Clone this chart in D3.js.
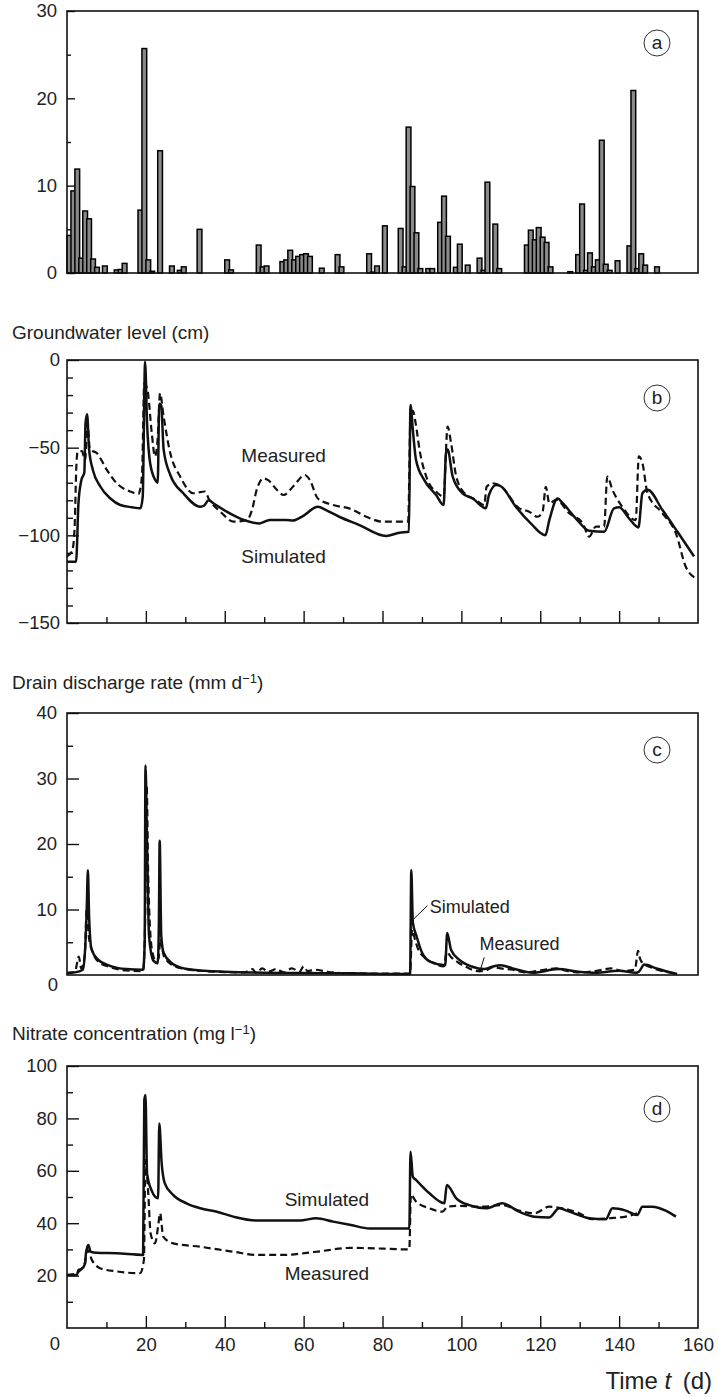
<!DOCTYPE html>
<html lang="en">
<head>
<meta charset="UTF-8">
<title>Rainfall, groundwater level, drain discharge and nitrate</title>
<script src="https://d3js.org/d3.v7.min.js"></script>
<style>
  body { margin: 0; background: #fff; }
  svg text { font-family: "Liberation Sans", Arial, sans-serif; fill: #222; }
</style>
</head>
<body>
<div id="chart"></div>
<script>
// (a) daily rainfall bars
const rainDay = [0,1,2,3,4,5,6,7,9,12,13,14,18,19,20,21,23,26,28,29,33,40,41,48,49,50,
  54,55,56,57,58,59,60,61,64,68,69,76,77,78,80,84,85,86,87,88,89,91,92,94,95,96,98,99,101,
  104,105,106,108,109,116,117,118,119,120,121,122,127,129,130,131,132,133,134,135,136,137,
  139,142,143,144,145,146,149];
const rainMm = [4.3,9.4,11.9,1.7,7.1,6.2,1.6,0.65,0.8,0.35,0.4,1.1,7.2,25.7,1.5,0.2,14.0,0.8,0.3,0.7,5.0,1.5,0.35,3.2,0.7,0.8,
  1.3,1.5,2.6,1.5,1.9,2.1,2.2,1.9,0.55,2.1,0.7,2.2,0.1,0.8,5.4,5.1,0.7,16.7,9.9,4.6,0.5,0.5,0.5,5.8,8.8,4.2,0.65,3.3,0.9,
  1.7,0.3,10.4,5.6,0.5,3.2,4.9,3.8,5.2,4.1,3.5,0.7,0.15,2.1,7.9,0.3,2.3,0.7,1.5,15.2,1.0,0.3,
  1.4,3.1,20.9,0.5,2.2,0.9,0.7];

// (b) groundwater level, cm  [day, value]
const gwSimulated = [[0,-115],[2.3,-115],[2.9,-82],[3.6,-69],[4.4,-64],[4.7,-36],[5.1,-31],[5.6,-51],[6.6,-63],
  [8.4,-72],[11,-79],[13.5,-82.7],[16.5,-84],[18.6,-84.6],[19.2,-78],[19.8,-1],[20.3,-36],[21.1,-59],[22.4,-68.5],
  [23,-70],[23.4,-25],[23.9,-26],[24.5,-51],[26.2,-65.6],[29.5,-76],[33.8,-83.7],[34.8,-83],[35.9,-80],[37.1,-81.7],
  [40.5,-86.5],[43.8,-90.3],[48.8,-93.2],[51.4,-91.3],[55.6,-91.3],[57.3,-91.6],[59.8,-89],[63.6,-83.7],[65.7,-85.6],
  [69,-89.4],[74,-94],[80.9,-100.4],[84.3,-98.5],[86.7,-98],[87.1,-25.7],[87.7,-40],[88.5,-57],[90.6,-68.5],
  [93.6,-77],[95.5,-82.7],[96.1,-53],[96.5,-51],[97.8,-66.5],[100.3,-76],[102.9,-79],[106.2,-84.6],[107,-77],
  [108.8,-71.3],[110,-72],[113.8,-83.7],[117.6,-93.2],[121.3,-100],[122.3,-91.3],[124.4,-79],[125.7,-81.7],
  [129,-90.3],[132.4,-97.4],[136.2,-98],[138.7,-84.6],[140,-84],[142.5,-90.3],[144.9,-95.5],[145.9,-76],
  [147.2,-74],[151,-85.6],[154.8,-98],[159,-112]];
const gwMeasured = [[0,-112],[1.3,-109],[1.9,-97],[2.4,-59],[2.7,-52.3],[3.8,-52],[4.6,-57],[5.2,-36],[5.8,-51],
  [7.6,-53.2],[10.1,-62.7],[12.6,-70.3],[16,-75],[18.1,-76.4],[19,-66.5],[19.6,-13.3],[20.4,-17],[21.5,-41.8],
  [22.3,-55],[23,-44.5],[23.6,-19],[24.5,-32.3],[26.2,-53.2],[28.7,-66.5],[32,-76],[35,-75],[35.9,-79],[38.9,-86.5],
  [42.3,-92.2],[45.6,-91.3],[46.9,-85.6],[48.1,-74],[49.8,-67.5],[51,-68.5],[53.2,-74],[54.9,-77],[57.4,-72],
  [60.3,-65.6],[61.6,-68.5],[63.6,-79],[67.5,-82.7],[72,-85],[75.9,-89.4],[80.1,-92.2],[86.5,-92.2],[87.1,-32.3],
  [87.7,-29],[88.4,-36],[89.4,-51.3],[91.1,-66.5],[94,-76],[95.5,-77.9],[96.5,-38],[97.4,-47.5],[98.7,-66.5],
  [100.8,-76],[103.7,-79.8],[105.8,-82.7],[106.4,-72.3],[107.9,-70.3],[110,-72],[114.7,-84.6],[117.2,-86.5],
  [119.3,-89.4],[120.6,-86.5],[121.4,-72.3],[122.3,-81.7],[124,-79.8],[127.4,-87.5],[130.8,-93.2],[132.4,-100.8],
  [134.1,-95],[136.2,-95],[137,-66.5],[138.3,-74],[140.8,-83.7],[144.2,-91.3],[145,-55],[145.9,-58.7],[147.2,-76],
  [151,-87.5],[154.4,-98.9],[156.9,-117.9],[159.4,-124.5]];

// (c) drain discharge rate, mm/d
const qSimulated = [[0,0.3],[2,0.4],[4,0.8],[4.6,4],[5,10],[5.3,16],[5.6,9],[6.2,4],[7.8,2.4],[10.9,1.4],[15,0.9],
  [19.3,0.8],[19.7,5],[19.9,32],[20.3,20],[20.8,6],[21.9,2.2],[23,1.8],[23.3,8],[23.5,20.5],[23.9,6],[24.5,3.4],
  [26.6,1.8],[29.7,1.0],[34.9,0.65],[40,0.5],[50,0.35],[60,0.3],[71,0.25],[87,0.15],[87.3,16],[87.7,8],[88.6,6],
  [90.1,3.3],[92.2,2.0],[95.9,1.5],[96.4,6.4],[97.4,3.8],[99.5,2.3],[102.6,1.3],[105.8,0.9],[108,1.3],[110,1.5],
  [113,1.0],[118.2,0.35],[124.5,0.9],[129.7,0.5],[134,0.35],[140,0.65],[144.3,0.35],[145,0.5],[146.4,1.6],
  [149.5,1.0],[154.7,0.15]];
const qMeasured = [[0,0.3],[2,0.5],[3,2.8],[3.6,1.0],[4.5,3],[5,10],[5.5,6],[6.5,3.5],[8,2],[11,1.2],[15,0.7],
  [19.3,0.6],[19.8,8],[20.2,29],[20.6,15],[21.5,4],[22.5,2.2],[23.2,2.5],[23.7,5.5],[24.5,3],[26.5,1.6],[30,0.9],
  [35,0.6],[40,0.45],[45,0.4],[47,0.9],[48,0.3],[49.5,1.0],[51,0.5],[53,0.9],[55,0.4],[57,1.0],[59,0.5],[60,1.3],
  [61,0.6],[63,0.8],[66,0.5],[70,0.3],[80,0.2],[87,0.2],[87.5,7],[88.2,5.5],[89,4],[91,2.5],[93,1.8],[95.5,1.3],
  [96.3,3.5],[97.3,2.8],[99.5,1.8],[102,1.0],[104,0.6],[105.8,0.6],[108,1.2],[110,1.0],[113,0.8],[116,0.4],
  [118,0.5],[121,0.8],[124,1.0],[127,0.6],[130,0.4],[134,0.6],[138,1.0],[141,0.6],[144,0.8],[144.8,3.7],
  [145.3,2.5],[146,1.8],[148,1.2],[151,0.6],[154.7,0.2]];

// (d) nitrate concentration, mg/l
const no3Simulated = [[0,20.2],[2.5,20.2],[2.9,22.1],[3.7,22.5],[4.6,24.7],[4.8,28.5],[5.4,31.7],[6,29.1],[7.5,28.7],
  [12.6,28.5],[19.3,27.9],[19.6,87],[19.9,88.9],[20.3,59],[21.4,52.7],[23.1,49.5],[23.4,78.1],[24,62.9],[24.8,55.2],
  [26.9,50.8],[30.3,47.6],[33.8,45.7],[38,44.4],[42.2,42.5],[48.1,41],[54.8,41],[59,41],[63.2,41.9],[67.5,40.6],
  [72,39.3],[76.7,38],[86.8,38],[87.1,67.3],[87.7,57.7],[88.5,56.5],[91.9,51.4],[95.7,47.6],[96.3,54.6],[98.7,49.5],
  [102,46.9],[106.2,45.7],[110.4,47.6],[114.6,44.4],[118.5,42.5],[122.3,42.2],[124.8,45.7],[127.4,44.4],
  [132.4,41.9],[136.6,41.5],[138.3,45.7],[141.7,44.8],[144.6,43.1],[145.9,46.3],[148.4,46.3],[151.8,44.8],
  [154.4,42.5]];
const no3Measured = [[0,20.2],[2.2,20.8],[3.4,22.1],[4.6,25.4],[5.2,29.8],[6.3,26],[8.4,22.8],[12.6,21.6],
  [18.5,20.9],[19.5,26],[19.9,64.1],[20.6,51.4],[21.2,36.1],[22.3,32.3],[23.1,38.7],[23.6,43.8],[24.4,34.9],
  [26.9,32.3],[33.8,31],[42.2,29.1],[48.1,27.9],[54.8,27.9],[63.2,29.1],[72,30.6],[75.9,30.5],[86.8,30],[87.2,51],
  [87.7,50.1],[88.5,48.3],[91.9,45.7],[95.2,44.4],[96.5,46.3],[99.5,46.6],[105.4,46.3],[110.4,46.9],[114.6,44.8],
  [118.5,43.8],[122.3,46.3],[125.6,45.7],[129.9,43.8],[133.2,41.5],[137.5,41.9],[141.7,42.5],[144.6,43.8]];

const xMajor = [20,40,60,80,100,120,140,160];
const xMinor = [10,30,50,70,90,110,130,150];

const svg = d3.select("#chart").append("svg")
  .attr("width", 719).attr("height", 1397);

const x = d3.scaleLinear().domain([0, 160]).range([67, 698]);

function panel(top, bottom, domain, majors, minors, majorLen, minorLen, letter, letterY) {
  const y = d3.scaleLinear().domain(domain).range([bottom, top]);
  const g = svg.append("g");

  g.append("g")
    .attr("transform", "translate(67,0)")
    .call(d3.axisLeft(y).tickValues(minors).tickSize(-minorLen).tickFormat(""))
    .call(a => a.select(".domain").remove());
  g.append("g")
    .attr("class", "ymajor")
    .attr("transform", "translate(67,0)")
    .call(d3.axisLeft(y).tickValues(majors).tickSize(-majorLen).tickPadding(10))
    .call(a => a.select(".domain").remove());
  g.selectAll(".tick line").attr("stroke", "#111").attr("stroke-width", 1.4);
  g.selectAll(".tick text").attr("font-size", 18.5).attr("fill", "#222")
    .attr("font-family", "'Liberation Sans', Arial, sans-serif");

  g.append("rect")
    .attr("x", x(0)).attr("y", top)
    .attr("width", x(160) - x(0)).attr("height", bottom - top)
    .attr("fill", "none").attr("stroke", "#111").attr("stroke-width", 1.6);

  g.append("circle").attr("cx", 657).attr("cy", letterY).attr("r", 13)
    .attr("fill", "none").attr("stroke", "#333").attr("stroke-width", 1);
  g.append("text").attr("x", 657).attr("y", letterY + 6)
    .attr("text-anchor", "middle").attr("font-size", 19).text(letter);

  return {g, y};
}

function xTicks(g, bottom) {
  g.append("g").attr("transform", `translate(0,${bottom})`)
    .call(d3.axisBottom(x).tickValues(xMinor).tickSize(-6).tickFormat(""))
    .call(a => a.select(".domain").remove());
  g.append("g").attr("transform", `translate(0,${bottom})`)
    .call(d3.axisBottom(x).tickValues(xMajor.filter(v => v < 160)).tickSize(-12).tickFormat(""))
    .call(a => a.select(".domain").remove());
  g.selectAll(".tick line").attr("stroke", "#111").attr("stroke-width", 1.4);
}

function series(g, y, data, dashed) {
  const line = d3.line().curve(d3.curveMonotoneX).x(d => x(d[0])).y(d => y(d[1]));
  g.append("path").datum(data)
    .attr("fill", "none").attr("stroke", "#111")
    .attr("stroke-width", dashed ? 2.2 : 2.5)
    .attr("stroke-linejoin", "round")
    .attr("stroke-dasharray", dashed ? "7,4" : null)
    .attr("d", line);
}

function title(yPos, main, sup, tail) {
  const t = svg.append("text").attr("x", 12).attr("y", yPos).attr("font-size", 19).text(main);
  if (sup) {
    t.append("tspan").attr("font-size", 13).attr("dy", -6).text(sup);
    t.append("tspan").attr("dy", 6).text(tail);
  }
}

// ---- (a) rainfall
const pa = panel(11, 273, [0, 30], [0, 10, 20, 30], [5, 15, 25], 8, 4, "a", 43);
pa.g.selectAll(".ymajor .tick text").attr("fill", "#333");
pa.g.insert("g", "rect").selectAll("rect")
  .data(rainDay.map((d, i) => [d, rainMm[i]]))
  .join("rect")
  .attr("x", d => x(d[0]))
  .attr("width", x(1) - x(0) + 0.8)
  .attr("y", d => pa.y(d[1]))
  .attr("height", d => pa.y(0) - pa.y(d[1]))
  .attr("fill", "#8a8a8a").attr("stroke", "#000").attr("stroke-width", 1.5);

// ---- (b) groundwater level
title(339, "Groundwater level (cm)");
const pb = panel(360, 623, [-150, 0], [0, -50, -100, -150],
  d3.range(-140, 0, 10).filter(v => v % 50 !== 0), 12, 6, "b", 398);
pb.g.selectAll(".ymajor .tick text").attr("dx", 3);
xTicks(pb.g, 623);
series(pb.g, pb.y, gwMeasured, true);
series(pb.g, pb.y, gwSimulated, false);
pb.g.append("text").attr("x", x(44.2)).attr("y", pb.y(-58)).attr("font-size", 19).text("Measured");
pb.g.append("text").attr("x", x(44.2)).attr("y", pb.y(-116)).attr("font-size", 19).text("Simulated");

// ---- (c) drain discharge
title(689, "Drain discharge rate (mm d", "\u22121", ")");
const pc = panel(713, 975, [0, 40], [10, 20, 30, 40], [5, 15, 25, 35], 12, 6, "c", 750);
pc.g.append("text").attr("x", x(0) - 14).attr("y", pc.y(0) + 16)
  .attr("text-anchor", "middle").attr("font-size", 18.5).text("0");
series(pc.g, pc.y, qMeasured, true);
series(pc.g, pc.y, qSimulated, false);
pc.g.append("text").attr("x", x(92)).attr("y", pc.y(9.5)).attr("font-size", 18).text("Simulated");
pc.g.append("line").attr("x1", x(91.4)).attr("y1", pc.y(10.6)).attr("x2", x(88)).attr("y2", pc.y(8.6))
  .attr("stroke", "#111").attr("stroke-width", 1);
pc.g.append("text").attr("x", x(104.6)).attr("y", pc.y(3.8)).attr("font-size", 18).text("Measured");
pc.g.append("line").attr("x1", x(105.8)).attr("y1", pc.y(2.7)).attr("x2", x(104.6)).attr("y2", pc.y(0.4))
  .attr("stroke", "#111").attr("stroke-width", 1);

// ---- (d) nitrate
title(1040, "Nitrate concentration (mg l", "\u22121", ")");
const pd = panel(1066, 1328, [0, 100], [20, 40, 60, 80, 100], [10, 30, 50, 70, 90], 12, 6, "d", 1109);
xTicks(pd.g, 1328);
pd.g.append("g").attr("transform", "translate(0,1328)")
  .call(d3.axisBottom(x).tickValues(xMajor).tickSize(0).tickPadding(10))
  .call(a => a.select(".domain").remove())
  .selectAll("text").attr("font-size", 18.5).attr("fill", "#222")
  .attr("font-family", "'Liberation Sans', Arial, sans-serif");
pd.g.append("text").attr("x", x(0) - 12).attr("y", pd.y(0) + 22)
  .attr("text-anchor", "middle").attr("font-size", 18.5).text("0");
series(pd.g, pd.y, no3Measured, true);
series(pd.g, pd.y, no3Simulated, false);
pd.g.append("text").attr("x", x(55.2)).attr("y", pd.y(46.5)).attr("font-size", 19).text("Simulated");
pd.g.append("text").attr("x", x(55.2)).attr("y", pd.y(18.3)).attr("font-size", 19).text("Measured");

const tl = svg.append("text").attr("x", 712).attr("y", 1389)
  .attr("text-anchor", "end").attr("font-size", 24).text("Time ");
tl.append("tspan").attr("font-style", "italic").text("t");
tl.append("tspan").text("\u2009 (d)");
</script>
</body>
</html>
